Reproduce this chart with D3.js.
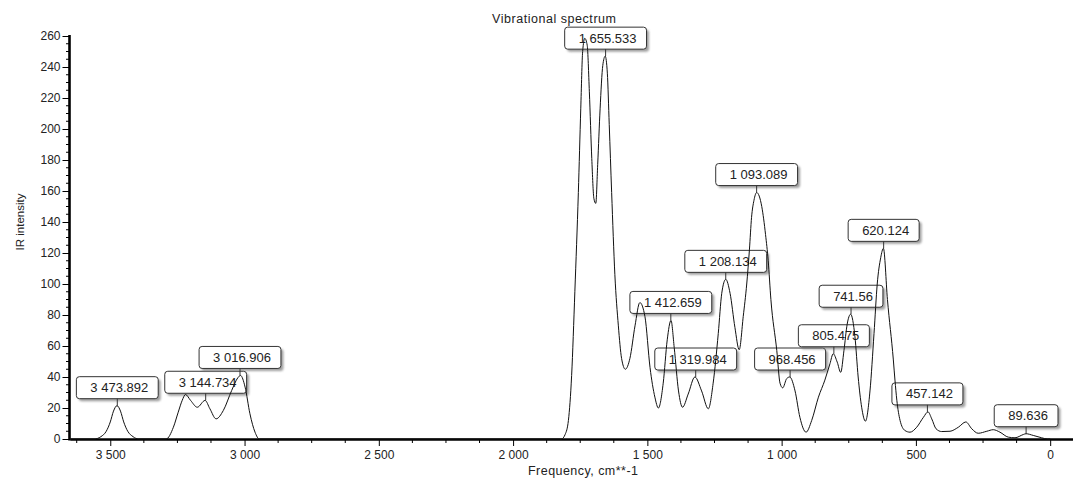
<!DOCTYPE html>
<html>
<head>
<meta charset="utf-8">
<script src="https://cdn.jsdelivr.net/npm/d3@7"></script>
<style>
    body { margin: 0; background: #fff; }
    svg { display: block; font-family: "Liberation Sans", Arial, sans-serif; }
</style>
</head>
<body>
<svg class="spectrum" width="1073" height="480"></svg>
<script>
// spectrum, highest frequency first
var spectrumFreq = [
    3650, 3560, 3535, 3515, 3500, 3488, 3475, 3462, 3450, 3435, 3415, 3395,
    3292, 3265, 3247, 3232, 3220, 3201, 3176, 3147, 3129, 3106, 3079, 3048, 3025, 3015, 2998, 2980, 2961, 2945,
    1820, 1806, 1794, 1782, 1770, 1757, 1748, 1741, 1733, 1724, 1716, 1707, 1699, 1692, 1685, 1676, 1666, 1657,
    1649, 1642, 1633, 1621, 1608, 1596, 1582, 1565, 1546, 1528, 1509, 1490, 1472, 1459, 1441, 1426, 1412, 1400,
    1384, 1369, 1348, 1323, 1298, 1273, 1255, 1236, 1223, 1208, 1192, 1174, 1158, 1143, 1130, 1120, 1112, 1103,
    1093, 1074, 1060, 1050, 1040, 1018, 1006, 996, 981, 970, 950, 932, 909, 888, 863, 839, 820, 808, 793, 780,
    768, 756, 743, 727, 715, 702, 688, 671, 656, 644, 631, 621, 606, 584, 578, 571, 559, 541, 522, 497, 472,
    455, 441, 425, 404, 373, 342, 314, 292, 268, 236, 212, 187, 156, 131, 100, 90, 63, 32, 10, 0
];
var spectrumIntensity = [
    0, 0, 1.5, 5, 11, 18, 21.5, 18, 11, 5, 1.5, 0,
    0, 7.6, 17.3, 25, 28.7, 24.9, 20.5, 24.9, 19.5, 13, 18.4, 31.3, 39.5, 41, 33.5, 16.3, 4.4, 0,
    0, 3, 12, 41, 95, 159, 213, 250, 258.5, 254, 224, 181, 155, 152, 177, 213, 241, 247,
    236, 203, 159, 106, 73, 52, 45, 52, 73, 88, 79, 46, 27, 20, 36, 64, 76.5, 59,
    31, 20.5, 29, 40, 31, 19.5, 36, 68, 94, 103, 94, 72, 57.6, 79, 100, 122, 143, 154,
    159, 150, 132, 115, 90, 57, 36, 33, 39, 40, 31, 14, 4.4, 12, 27, 38, 48.6, 55, 49.6, 43,
    57, 74, 80.5, 66, 40, 20.5, 11.5, 31, 68, 100, 117, 123, 90, 51, 38, 25, 12, 5.5, 4.4, 7.6, 14,
    17.5, 13, 6.6, 4.8, 5, 7.6, 11, 6.6, 3.7, 5, 6, 4.4, 1.2, 0.8, 2.9, 3.4, 2.3, 0.8, 0, 0
];

// labelled peaks
var peakFreq = [3473.892, 3144.734, 3016.906, 1655.533, 1412.659, 1319.984, 1208.134,
    1093.089, 968.456, 805.475, 741.56, 620.124, 457.142, 89.636];
var peakIntensity = [21.5, 25, 41, 247, 76.5, 40, 103, 159, 40, 55, 80.5, 123, 17.5, 3.4];

var xTickValues = [3500, 3000, 2500, 2000, 1500, 1000, 500, 0];
var yTickValues = [0, 20, 40, 60, 80, 100, 120, 140, 160, 180, 200, 220, 240, 260];

var svg = d3.select("svg.spectrum");
var fontColor = "#222";

var locale = d3.formatLocale({ decimal: ".", thousands: " ", grouping: [3], currency: ["", ""] });
var tickFormat = locale.format(",d");
var peakFormat = locale.format(",.3~f");

var x = d3.scaleLinear().domain([3650, -85]).range([70, 1073]);
var y = d3.scaleLinear().domain([0, 260]).range([439, 36]);

// shadow filter for the label boxes
var defs = svg.append("defs");
var blur = defs.append("filter").attr("id", "shadow")
    .attr("x", "-20%").attr("y", "-20%").attr("width", "140%").attr("height", "160%");
blur.append("feGaussianBlur").attr("stdDeviation", 1.2);

// minor ticks
var xMinor = d3.range(0, 3650, 125).filter(function (v) { return v % 500 !== 0; });
var yMinor = d3.range(0, 261, 5).filter(function (v) { return v % 20 !== 0; });

svg.append("g").selectAll("line")
    .data(xMinor).enter().append("line")
    .attr("x1", function (d) { return x(d); })
    .attr("x2", function (d) { return x(d); })
    .attr("y1", 439).attr("y2", 443)
    .attr("stroke", "#000");

svg.append("g").selectAll("line")
    .data(yMinor).enter().append("line")
    .attr("x1", 66).attr("x2", 70)
    .attr("y1", function (d) { return y(d); })
    .attr("y2", function (d) { return y(d); })
    .attr("stroke", "#000");

// axes
var xAxis = svg.append("g")
    .attr("transform", "translate(0,439)")
    .call(d3.axisBottom(x).tickValues(xTickValues).tickFormat(tickFormat)
        .tickSize(7).tickSizeOuter(0).tickPadding(4));

var yAxis = svg.append("g")
    .attr("transform", "translate(69.5,0)")
    .call(d3.axisLeft(y).tickValues(yTickValues).tickFormat(tickFormat)
        .tickSize(7).tickSizeOuter(0).tickPadding(2));

[xAxis, yAxis].forEach(function (ax) {
    ax.select(".domain").attr("stroke", "#000").attr("stroke-width", 2.6);
    ax.selectAll(".tick text").attr("font-size", 12).attr("fill", fontColor)
        .attr("font-family", "Liberation Sans, Arial, sans-serif");
});
yAxis.select(".domain").attr("d", "M0,35V440.5");

// label boxes (drawn under the curve, like the original)
var labels = svg.append("g").selectAll("g.peak")
    .data(peakFreq).enter().append("g")
    .classed("peak", true);

labels.each(function (f, i) {
    var g = d3.select(this);
    var px = x(f);
    var py = y(peakIntensity[i]);
    var boxBottom = py - 7;
    var boxH = 22;

    var text = g.append("text")
        .attr("font-size", 13)
        .attr("fill", fontColor)
        .attr("text-anchor", "middle")
        .attr("x", px + 2)
        .attr("y", boxBottom - 6.5)
        .text(peakFormat(f));
    var w = text.node().getComputedTextLength() + 24;

    g.insert("rect", "text")
        .attr("x", px - w / 2 + 2.5)
        .attr("y", boxBottom - boxH + 2.5)
        .attr("width", w).attr("height", boxH)
        .attr("rx", 3)
        .attr("fill", "#777")
        .attr("opacity", 0.7)
        .attr("filter", "url(#shadow)");
    g.insert("rect", "text")
        .attr("x", px - w / 2)
        .attr("y", boxBottom - boxH)
        .attr("width", w).attr("height", boxH)
        .attr("rx", 3)
        .attr("fill", "#fff")
        .attr("stroke", "#333")
        .attr("stroke-width", 1);
    g.append("line")
        .attr("x1", px).attr("x2", px)
        .attr("y1", boxBottom).attr("y2", py)
        .attr("stroke", "#333");
});

// the spectrum
var line = d3.line()
    .x(function (d) { return x(d); })
    .y(function (d, i) { return y(spectrumIntensity[i]); })
    .curve(d3.curveMonotoneX);

svg.append("path")
    .datum(spectrumFreq)
    .attr("d", line)
    .attr("fill", "none")
    .attr("stroke", "#111")
    .attr("stroke-width", 1);

// titles
svg.append("text")
    .attr("x", 554).attr("y", 23)
    .attr("text-anchor", "middle")
    .attr("font-size", 12.5)
    .attr("fill", fontColor)
    .attr("textLength", 124)
    .text("Vibrational spectrum");

svg.append("text")
    .attr("x", 583).attr("y", 475)
    .attr("text-anchor", "middle")
    .attr("font-size", 12.5)
    .attr("fill", fontColor)
    .attr("textLength", 110)
    .text("Frequency, cm**-1");

svg.append("text")
    .attr("transform", "translate(24,222) rotate(-90)")
    .attr("text-anchor", "middle")
    .attr("font-size", 11.5)
    .attr("fill", fontColor)
    .text("IR intensity");
</script>
</body>
</html>
